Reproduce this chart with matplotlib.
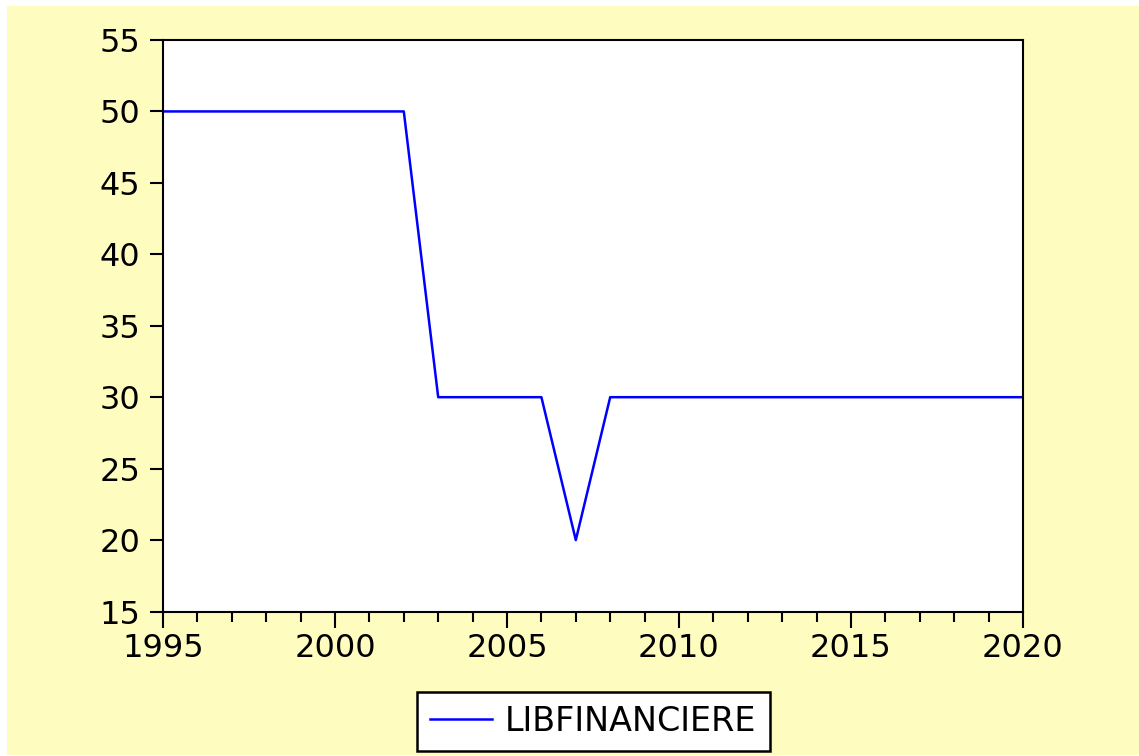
import matplotlib
matplotlib.use("Agg")
import matplotlib.pyplot as plt
from matplotlib.patches import Rectangle
from matplotlib.ticker import MultipleLocator

plt.rcParams['font.family'] = ['DejaVu Sans']

# donnees
years = list(range(1995, 2021))
libfinanciere = [50, 50, 50, 50, 50, 50, 50, 50,
                 30, 30, 30, 30, 20,
                 30, 30, 30, 30, 30, 30, 30, 30, 30, 30, 30, 30, 30]
series_name = "LIBFINANCIERE"
yticks = [15, 20, 25, 30, 35, 40, 45, 50, 55]
xticks = [1995, 2000, 2005, 2010, 2015, 2020]

W, H = 1139, 756
bg = '#FFFCC0'

fig = plt.figure(figsize=(W / 100, H / 100), dpi=100)
fig.patch.set_facecolor('white')
# fond jaune facon EViews, petite marge blanche en haut et a gauche
fig.patches.append(Rectangle((7 / W, 1 / H), 1 - 7 / W, 1 - 7 / H,
                             transform=fig.transFigure, facecolor=bg,
                             edgecolor='none', zorder=-10))

ax = fig.add_axes([163 / W, (H - 611.5) / H, 860 / W, 571.5 / H])
ax.set_facecolor('white')
ax.plot(years, libfinanciere, color='#0000FF', linewidth=1.8, label=series_name)

ax.set_xlim(1995, 2020)
ax.set_ylim(15, 55)
ax.set_xticks(xticks)
ax.set_yticks(yticks)
ax.xaxis.set_minor_locator(MultipleLocator(1))

for s in ax.spines.values():
    s.set_linewidth(1.5)
    s.set_color('black')

ax.tick_params(axis='both', which='major', direction='out', width=1.5,
               labelsize=23, colors='black')
ax.tick_params(axis='y', which='major', length=9.5, pad=7)
ax.tick_params(axis='x', which='major', length=11.5, pad=4)
ax.tick_params(axis='x', which='minor', direction='out', length=7, width=1.5)
ax.tick_params(top=False, right=False)

leg = fig.legend(loc='center', bbox_to_anchor=(593.5 / W, 1 - 721.5 / H),
                 fontsize=24, frameon=True, fancybox=False,
                 handlelength=1.85, borderpad=0.4, handletextpad=0.4)
leg.get_frame().set_edgecolor('black')
leg.get_frame().set_linewidth(1.8)
leg.get_frame().set_facecolor('white')
leg.get_frame().set_alpha(1)

fig.savefig('out.png', dpi=100, facecolor=fig.get_facecolor())
